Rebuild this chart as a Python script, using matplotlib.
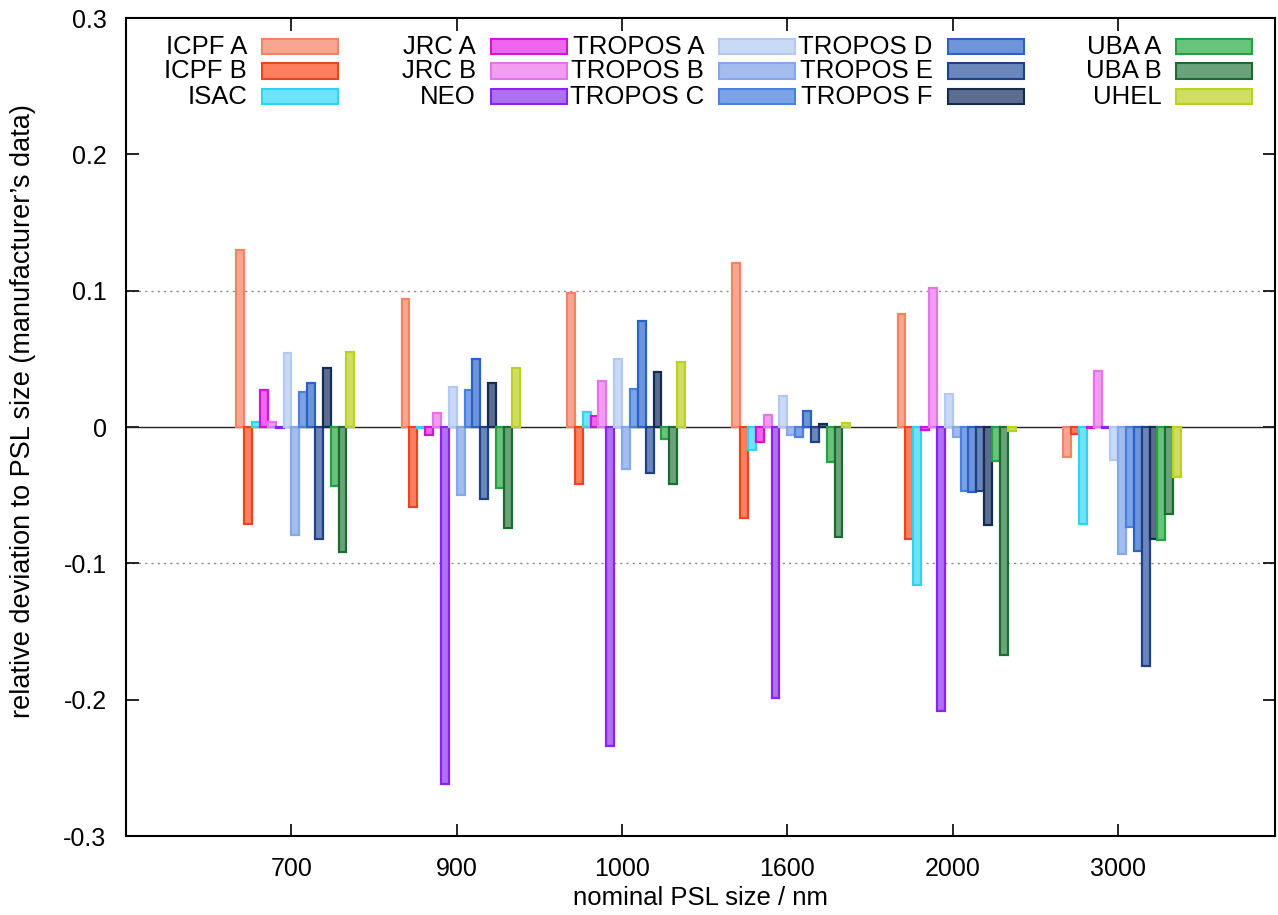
import numpy as np
import matplotlib.pyplot as plt
from matplotlib.patches import Rectangle

plt.rcParams['font.family'] = ['Liberation Sans', 'DejaVu Sans']

# nominal PSL sizes (x categories)
sizes = ['700', '900', '1000', '1600', '2000', '3000']

# relative deviations per instrument, one value per PSL size
icpf_a = [0.130, 0.094, 0.098, 0.120, 0.083, -0.022]
icpf_b = [-0.071, -0.059, -0.042, -0.067, -0.082, -0.005]
isac = [0.004, -0.001, 0.011, -0.017, -0.116, -0.071]
jrc_a = [0.027, -0.006, 0.008, -0.011, -0.002, -0.001]
jrc_b = [0.004, 0.010, 0.034, 0.009, 0.102, 0.041]
neo = [-0.001, -0.262, -0.234, -0.199, -0.208, -0.001]
tropos_a = [0.054, 0.029, 0.050, 0.023, 0.024, -0.024]
tropos_b = [-0.079, -0.050, -0.031, -0.006, -0.007, -0.093]
tropos_c = [0.026, 0.027, 0.028, -0.007, -0.047, -0.073]
tropos_d = [0.032, 0.050, 0.078, 0.012, -0.048, -0.091]
tropos_e = [-0.082, -0.053, -0.034, -0.011, -0.047, -0.175]
tropos_f = [0.043, 0.032, 0.040, 0.002, -0.072, -0.082]
uba_a = [-0.043, -0.045, -0.009, -0.026, -0.025, -0.083]
uba_b = [-0.092, -0.074, -0.042, -0.081, -0.167, -0.064]
uhel = [0.055, 0.043, 0.048, 0.003, -0.003, -0.037]

names = ['ICPF A', 'ICPF B', 'ISAC', 'JRC A', 'JRC B', 'NEO',
         'TROPOS A', 'TROPOS B', 'TROPOS C', 'TROPOS D', 'TROPOS E', 'TROPOS F',
         'UBA A', 'UBA B', 'UHEL']
values = [icpf_a, icpf_b, isac, jrc_a, jrc_b, neo,
          tropos_a, tropos_b, tropos_c, tropos_d, tropos_e, tropos_f,
          uba_a, uba_b, uhel]

fills = ['#f9a690', '#ff7f60', '#6ee4fa', '#ee66ee', '#f29cf2', '#b070f2',
         '#c9d9f6', '#a2bdee', '#7ca3e8', '#6e95da', '#6a86bb', '#5b6e91',
         '#68c47c', '#6aa27b', '#cfde62']
edges = ['#f08466', '#e8461e', '#34d2f2', '#d414d4', '#e474ea', '#8a24e8',
         '#b2c9f2', '#84a8e8', '#4c82de', '#2c62c8', '#1f4187', '#172a50',
         '#24a242', '#1c6c30', '#bad222']

fig = plt.figure(figsize=(12.78, 9.15), dpi=100)
ax = fig.add_axes([0.0986, 0.0863, 0.8991, 0.894])

n = len(names)
w = 1.0 / 21
x = np.arange(len(sizes))
for j in range(n):
    ax.bar(x + 0.024 + (j - (n - 1) / 2) * w, values[j], width=w,
           color=fills[j], edgecolor=edges[j], linewidth=1.6, zorder=3)

# reference lines
ax.axhline(0, color='#222222', linewidth=1.0, zorder=2)
for yy in (0.1, -0.1):
    ax.axhline(yy, color='#888888', linestyle=(0, (1.5, 3)), linewidth=1.0, zorder=1)

ax.set_xlim(-1, 5.95)
ax.set_ylim(-0.3, 0.3)
ax.set_xticks(x)
ax.set_xticklabels(sizes)
ax.set_yticks([-0.3, -0.2, -0.1, 0, 0.1, 0.2, 0.3])
ax.set_yticklabels(['-0.3', '-0.2', '-0.1', '0', '0.1', '0.2', '0.3'])
ax.tick_params(direction='in', length=9, width=1.2, labelsize=18,
               top=True, right=True, pad=14)
ax.tick_params(axis='x', pad=15)
for s in ax.spines.values():
    s.set_linewidth(1.5)

ax.set_xlabel('nominal PSL size / nm', fontsize=18.5, labelpad=4)
ax.set_ylabel('relative deviation to PSL size (manufacturer\u2019s data)',
              fontsize=19.5)
ax.yaxis.set_label_coords(-0.078, 0.52)

# gnuplot-style key: label right-aligned, box after it, 5 columns x 3 rows
box_x0 = 0.1184
pitch = 0.1989
box_w = 0.0661
box_h = 0.019
row_y = [0.965, 0.935, 0.904]
for j, name in enumerate(names):
    col, row = divmod(j, 3)
    bx = box_x0 + col * pitch
    by = row_y[row]
    ax.add_patch(Rectangle((bx, by - box_h / 2), box_w, box_h,
                           transform=ax.transAxes, facecolor=fills[j],
                           edgecolor=edges[j], linewidth=1.5, zorder=4))
    ax.text(bx - 0.013, by, name, transform=ax.transAxes, ha='right',
            va='center', fontsize=18.5, zorder=4)

fig.savefig('out.png', dpi=100)
